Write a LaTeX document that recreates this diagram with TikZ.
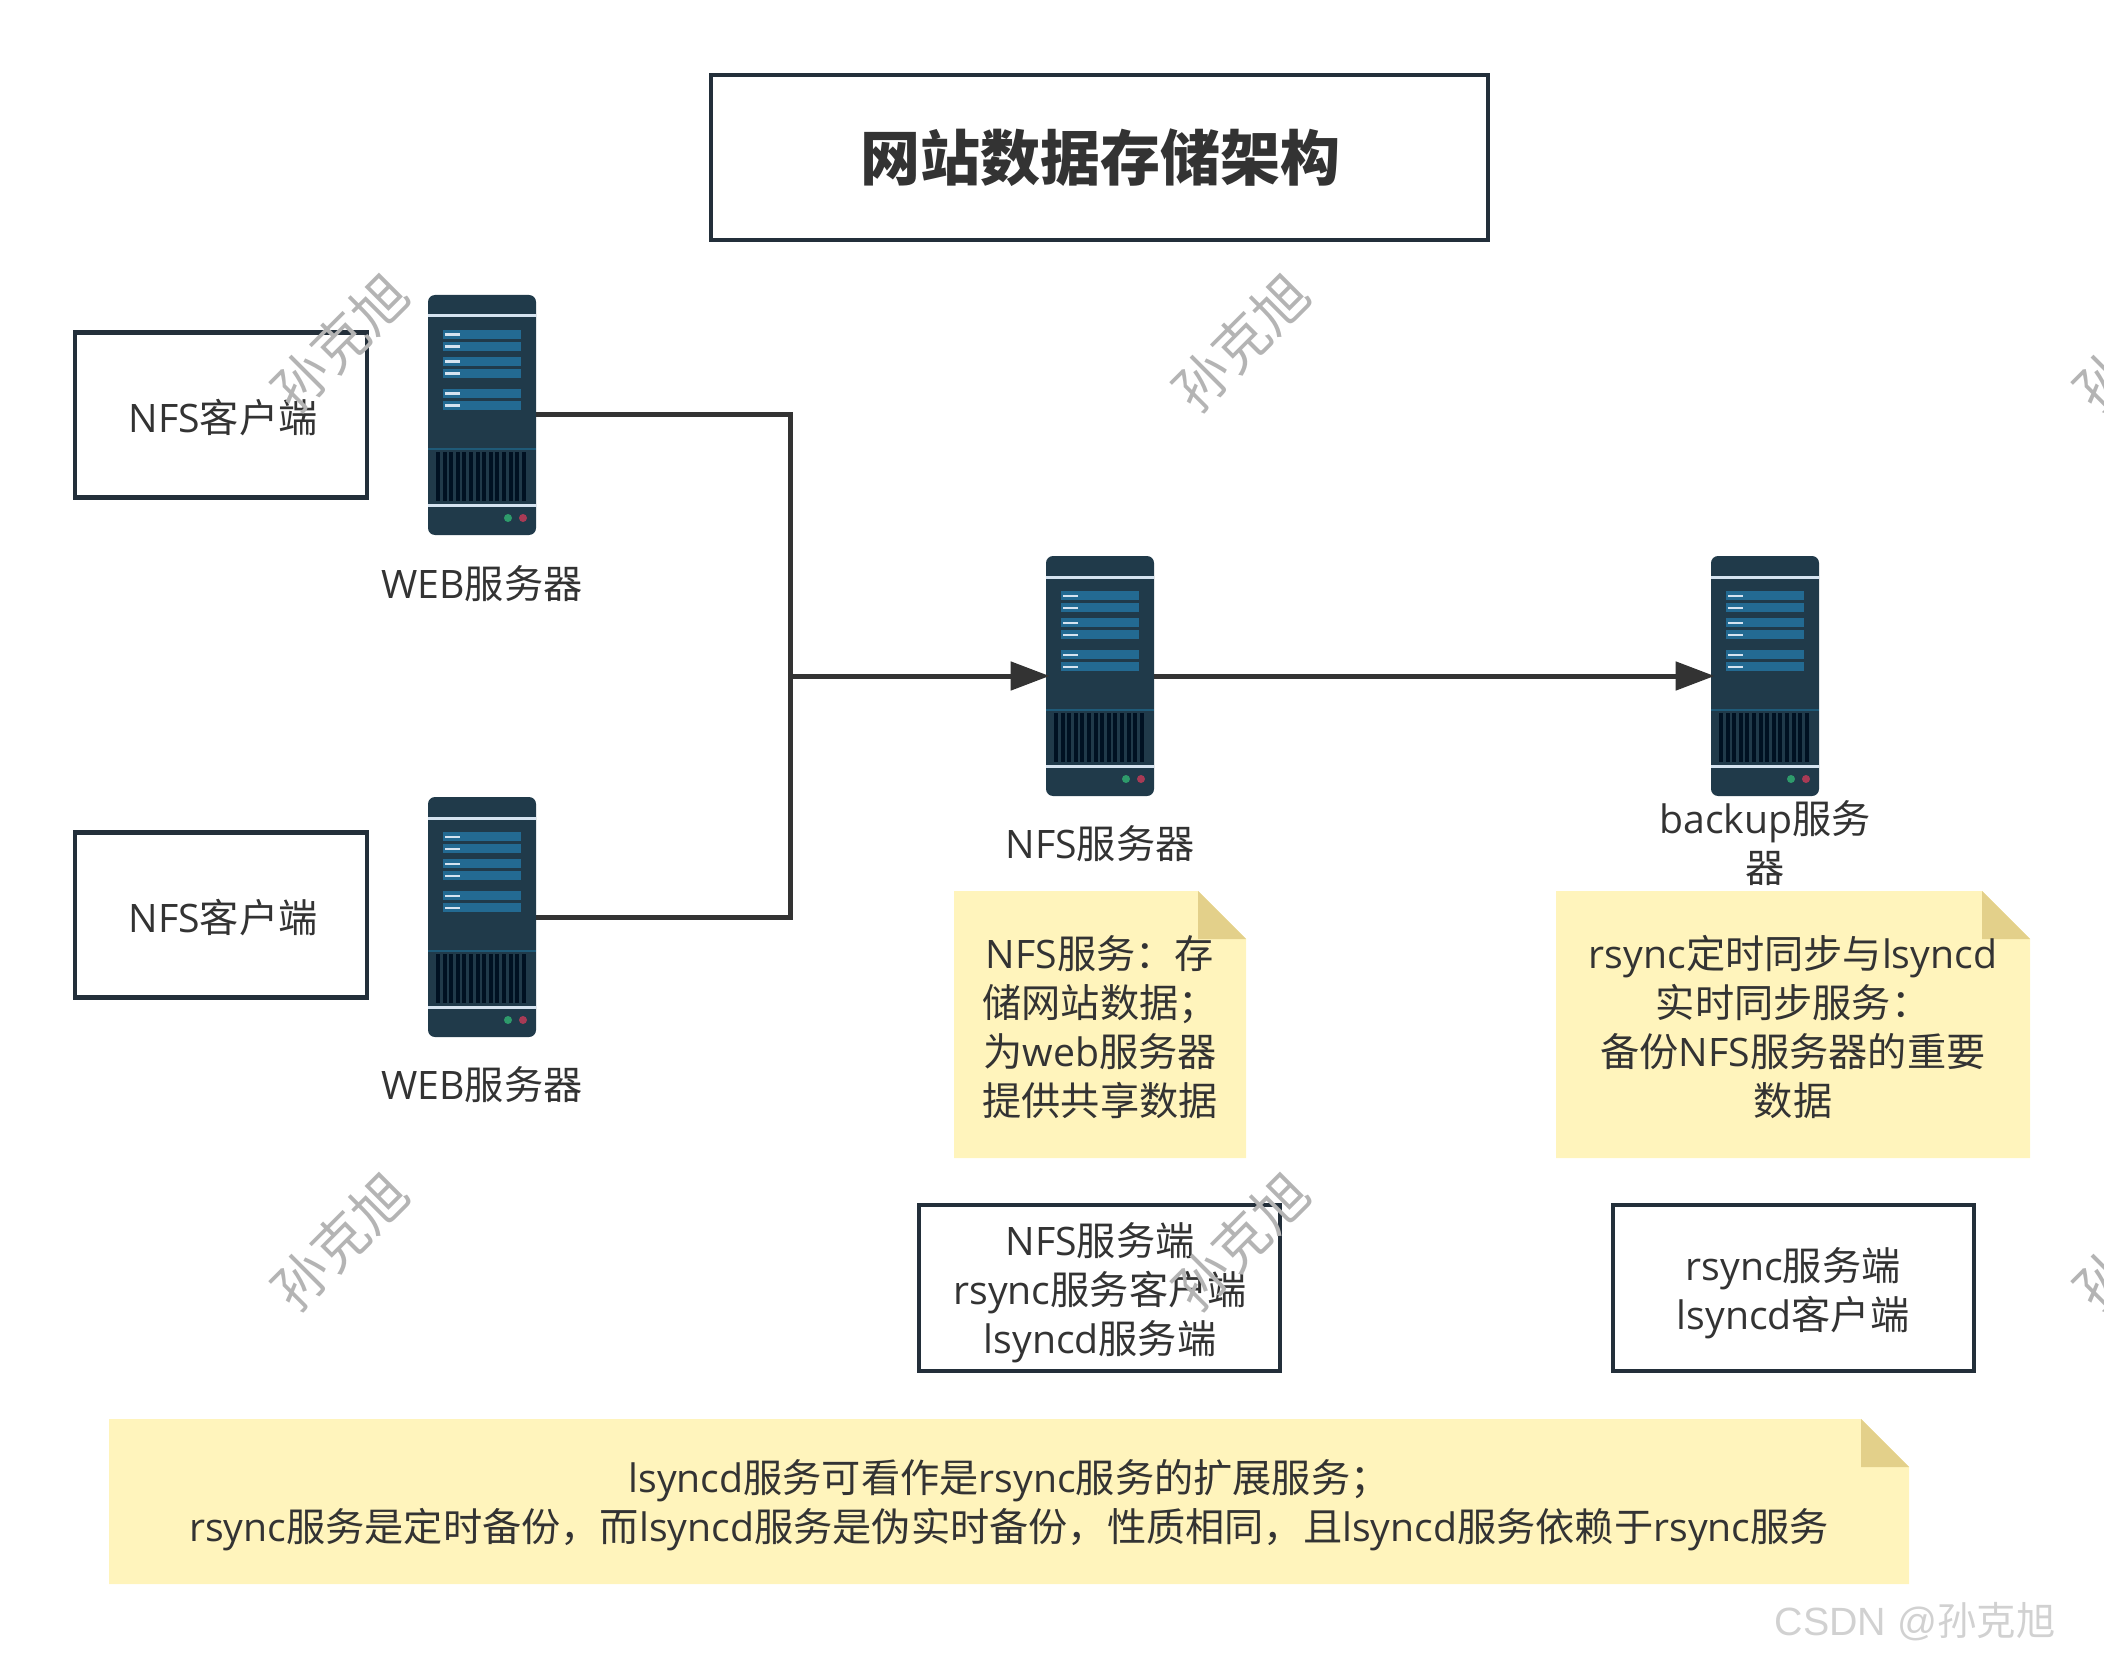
\documentclass[tikz,border=0pt]{standalone}
\usepackage{fontspec}
\usetikzlibrary{arrows.meta}
\setmainfont{Noto Sans CJK SC}
\newfontfamily\latinfont{Open Sans}
\newfontfamily\wmfont{Liberation Sans}
\newcommand{\la}[1]{{\latinfont #1}}
\definecolor{inkc}{HTML}{333333}
\definecolor{edgec}{HTML}{232F3A}
\definecolor{notec}{HTML}{FFF4BC}
\definecolor{foldc}{HTML}{E3D08A}
\definecolor{bodyc}{HTML}{203A4A}
\definecolor{barc}{HTML}{236A92}
\definecolor{stripc}{HTML}{D5E3F0}
\definecolor{slatc}{HTML}{001122}
\definecolor{ventc}{HTML}{1F5A78}
\definecolor{greenc}{HTML}{2E9B6B}
\definecolor{redc}{HTML}{A83A55}
\definecolor{markc}{HTML}{B4B4B4}
\tikzset{
  txt/.style={inner sep=0pt,align=center,text=inkc,font=\fontsize{19.6pt}{24.5pt}\selectfont},
  framebox/.style={draw=edgec,line width=2.25pt,fill=white,inner sep=0pt},
  srvbody/.style={fill=bodyc,rounded corners=3.5pt,minimum width=54pt,minimum height=120pt,inner sep=0pt},
  wire/.style={draw=inkc,line width=2.5pt},
  tip/.style={wire,-{Triangle[length=19.5pt,width=14pt]},shorten >=-2pt},
  notebg/.style={fill=notec},
  notefold/.style={fill=foldc},
  wmark/.style={inner sep=0pt,text=markc,rotate=45,font=\fontsize{27.5pt}{27.5pt}\selectfont},
}
\newcommand{\server}[3]{%
  \node[srvbody] (#1) at (#2+54,#3+120) {};
  \begin{scope}[shift={(#2,#3)}]
    \fill[stripc] (0,19.5) rectangle (108,22.5);
    \fill[stripc] (0,208.5) rectangle (108,211.5);
    \fill[ventc] (0,153.2) rectangle (108,154.8);
    \foreach \by in {35,47,62,74,94,106}{
      \fill[barc] (15,\by) rectangle (93,\by+9.3);
      \fill[stripc] (17,\by+3.5) rectangle (32,\by+5.8);
    }
    \foreach \sx in {0,...,13}{
      \fill[slatc] (8+\sx*6.6,157) rectangle (12+\sx*6.6,206);
    }
    \fill[greenc] (80,223) circle (4);
    \fill[redc] (95,223) circle (4);
  \end{scope}
}
\newcommand{\stickynote}[5]{%
  \fill[notebg] (#2,#3) -- (#4-48,#3) -- (#4,#3+48) -- (#4,#5) -- (#2,#5) -- cycle;
  \fill[notefold] (#4-48,#3) -- (#4,#3+48) -- (#4-48,#3+48) -- cycle;
  \coordinate (#1) at (#2,#3);
}
\begin{document}
\begin{tikzpicture}[x=0.5pt,y=-0.5pt]
\useasboundingbox (0,0) rectangle (2104,1658);
\clip (0,0) rectangle (2104,1658);

\node[framebox,minimum width=388.5pt,minimum height=82.5pt] (titlebox) at (1099.5,157.5) {};
\node[txt,font=\bfseries\fontsize{30pt}{30pt}\selectfont] (titletext) at (1100,158) {网站数据存储架构};

\node[framebox,minimum width=146pt,minimum height=82.5pt] (c1) at (221,415) {};
\node[framebox,minimum width=146pt,minimum height=82.5pt] (c2) at (221,915) {};
\node[txt] (c1t) at (223,418) {\la{NFS}客户端};
\node[txt] (c2t) at (223,918) {\la{NFS}客户端};

\server{s1}{428}{295}
\server{s2}{428}{797}
\server{s3}{1046}{556}
\server{s4}{1711}{556}

\coordinate (junction) at (790,676);
\draw[wire] (s1.east) -| (junction);
\draw[wire] (s2.east) -| (junction);
\draw[tip] (junction) -- (s3.west);
\draw[tip] (s3.east) -- (s4.west);

\node[txt] (s1t) at (482,584) {\la{WEB}服务器};
\node[txt] (s2t) at (482,1085) {\la{WEB}服务器};
\node[txt] (s3t) at (1100,844) {\la{NFS}服务器};
\node[txt] (s4t) at (1765,843) {\la{backup}服务\\器};

\stickynote{n1}{954}{891}{1246}{1158}
\node[txt] (n1t) at (1100,1027) {\la{NFS}服务：存\\储网站数据；\\为\la{web}服务器\\提供共享数据};
\stickynote{n2}{1556}{891}{2030}{1158}
\node[txt] (n2t) at (1793,1027) {\la{rsync}定时同步与\la{lsyncd}\\实时同步服务：\\备份\la{NFS}服务器的重要\\数据};

\node[framebox,minimum width=180.5pt,minimum height=83pt] (b1) at (1099.5,1288) {};
\node[txt] (b1t) at (1100,1293) {\la{NFS}服务端\\\la{rsync}服务客户端\\\la{lsyncd}服务端};
\node[framebox,minimum width=180.5pt,minimum height=83pt] (b2) at (1793.5,1288) {};
\node[txt] (b2t) at (1793,1293) {\la{rsync}服务端\\\la{lsyncd}客户端};

\stickynote{n3}{109}{1419}{1909}{1584}
\node[txt] (n3t) at (1009,1505) {\la{lsyncd}服务可看作是\la{rsync}服务的扩展服务；\\\la{rsync}服务是定时备份，而\la{lsyncd}服务是伪实时备份，性质相同，且\la{lsyncd}服务依赖于\la{rsync}服务};

\node[wmark] (w1) at (340,342) {孙克旭};
\node[wmark] (w2) at (1241,342) {孙克旭};
\node[wmark] (w3) at (2142,342) {孙克旭};
\node[wmark] (w4) at (340,1241) {孙克旭};
\node[wmark] (w5) at (1241,1241) {孙克旭};
\node[wmark] (w6) at (2142,1241) {孙克旭};

\node[inner sep=0pt,text=black!18,font=\fontsize{19.7pt}{20pt}\selectfont] (csdn) at (1915,1622) {{\wmfont CSDN @}孙克旭};
\end{tikzpicture}
\end{document}
